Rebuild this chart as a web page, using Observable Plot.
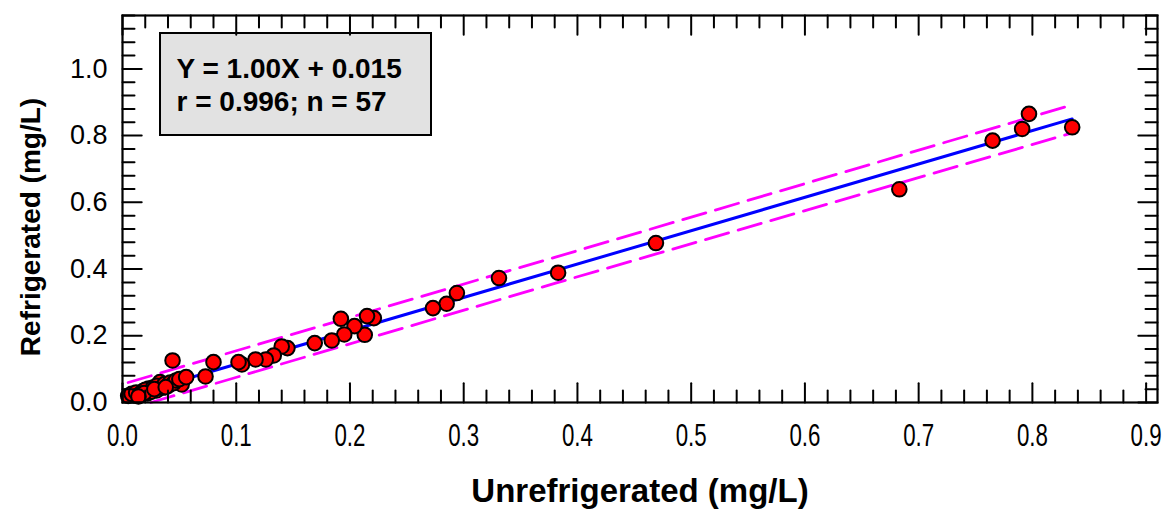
<!DOCTYPE html>
<html><head><meta charset="utf-8">
<script src="https://cdn.jsdelivr.net/npm/d3@7"></script>
<script src="https://cdn.jsdelivr.net/npm/@observablehq/plot@0.6"></script>
<style>html,body{margin:0;padding:0;background:#fff}#chart{width:1171px;height:515px}</style>
</head><body><div id="chart"></div>
<script>
// Measured points (unrefrigerated vs refrigerated, mg/L)
const unrefrigerated = [0.835,0.797,0.791,0.765,0.683,0.469,0.383,0.331,0.294,0.285,0.273,0.221,0.215,0.213,0.204,0.195,0.192,0.184,0.169,0.145,0.140,0.133,0.126,0.117,0.105,0.102,0.080,0.073,0.044,0.054,0.052,0.033,0.030,0.023,0.022,0.010,
  0.005,0.008,0.012,0.015,0.018,0.020,0.025,0.027,0.030,0.035,0.037,0.040,0.042,0.045,0.047,0.050,0.056,0.019,0.014,0.028,0.038];
const refrigerated = [0.825,0.865,0.820,0.785,0.639,0.478,0.389,0.373,0.328,0.296,0.283,0.253,0.259,0.203,0.229,0.204,0.251,0.186,0.178,0.163,0.168,0.141,0.129,0.129,0.114,0.121,0.121,0.078,0.126,0.072,0.054,0.061,0.036,0.042,0.027,0.021,
  0.020,0.026,0.030,0.024,0.034,0.038,0.032,0.045,0.050,0.044,0.055,0.050,0.060,0.058,0.066,0.070,0.076,0.028,0.018,0.040,0.046];
// Regression line and prediction band
const fitX = [0.005, 0.835];
const fitY = [0.020, 0.850];
const upperX = [0.005, 0.38, 0.835];
const upperY = [0.060, 0.435, 0.892];
const lowerX = [0.025, 0.38, 0.835];
const lowerY = [0.000, 0.357, 0.808];
// Ticks
const xTickLabels = [0.0,0.1,0.2,0.3,0.4,0.5,0.6,0.7,0.8,0.9];
const yTickLabels = [0.0,0.2,0.4,0.6,0.8,1.0];
const xMinor = d3.range(0, 46).map(i => i * 0.02);
const yMinor = d3.range(0, 30).map(i => i * 0.04);
const equationLines = ["Y = 1.00X + 0.015", "r = 0.996; n = 57"];
const xTitle = "Unrefrigerated (mg/L)";
const yTitle = "Refrigerated (mg/L)";

const points = unrefrigerated.map((x, i) => ({x, y: refrigerated[i]}));
const fit = fitX.map((x, i) => ({x, y: fitY[i]}));
const upper = upperX.map((x, i) => ({x, y: upperY[i]}));
const lower = lowerX.map((x, i) => ({x, y: lowerY[i]}));

const tickShape = {draw(ctx, l) { ctx.moveTo(0, 0); ctx.lineTo(0, -l); }};
const isMajorX = v => Math.abs(v * 10 - Math.round(v * 10)) < 1e-6;
const isMajorY = v => Math.abs(v * 5 - Math.round(v * 5)) < 1e-6;

const box = (index, scales, values, dimensions) => {
  const g = d3.create("svg:g");
  g.append("rect")
    .attr("x", dimensions.marginLeft + 38).attr("y", dimensions.marginTop + 18)
    .attr("width", 271).attr("height", 102)
    .attr("fill", "#e2e2e2").attr("stroke", "black").attr("stroke-width", 2);
  return g.node();
};

const svg = Plot.plot({
  width: 1171, height: 515,
  marginLeft: 122, marginRight: 14, marginTop: 15, marginBottom: 113,
  style: {fontFamily: "'Liberation Sans', Arial, sans-serif", background: "white", color: "black", overflow: "visible"},
  x: {domain: [0, 0.91]},
  y: {domain: [0, 1.16]},
  marks: [
    box,
    Plot.line(fit, {x: "x", y: "y", stroke: "#0000ff", strokeWidth: 3}),
    Plot.line(upper, {x: "x", y: "y", stroke: "#ff00ff", strokeWidth: 2.8, strokeDasharray: "24,10"}),
    Plot.line(lower, {x: "x", y: "y", stroke: "#ff00ff", strokeWidth: 2.8, strokeDasharray: "24,10"}),
    Plot.dot(points, {x: "x", y: "y", r: 7.3, fill: "#ff0000", stroke: "black", strokeWidth: 2}),
    Plot.vectorX(xMinor, {frameAnchor: "bottom", rotate: 0, anchor: "start", shape: tickShape, length: d => isMajorX(d) ? 8 : 5, stroke: "black", strokeWidth: 2}),
    Plot.vectorX(xMinor, {frameAnchor: "top", rotate: 180, anchor: "start", shape: tickShape, length: d => isMajorX(d) ? 8 : 5, stroke: "black", strokeWidth: 2}),
    Plot.vectorY(yMinor, {frameAnchor: "left", rotate: 90, anchor: "start", shape: tickShape, length: d => isMajorY(d) ? 8 : 5, stroke: "black", strokeWidth: 2}),
    Plot.vectorY(yMinor, {frameAnchor: "right", rotate: -90, anchor: "start", shape: tickShape, length: d => isMajorY(d) ? 8 : 5, stroke: "black", strokeWidth: 2}),
    Plot.frame({stroke: "black", strokeWidth: 2.2}),
    Plot.axisX(xTickLabels, {anchor: "bottom", tickSize: 0, tickPadding: 21, tickFormat: d3.format(".1f"), fontSize: 31, label: null}),
    Plot.axisY(yTickLabels, {anchor: "left", tickSize: 0, tickPadding: 15, tickFormat: d3.format(".1f"), fontSize: 27, label: null}),
    Plot.text([xTitle], {frameAnchor: "bottom", dy: 89, fontSize: 33, fontWeight: "bold", textAnchor: "middle", lineAnchor: "middle"}),
    Plot.text([yTitle], {frameAnchor: "left", rotate: -90, dx: -91, dy: 18, fontSize: 28, fontWeight: "bold", textAnchor: "middle", lineAnchor: "middle"}),
    Plot.text([equationLines.join("\n")], {frameAnchor: "top-left", dx: 54, dy: 39, textAnchor: "start", lineAnchor: "top", lineHeight: 1.18, fontSize: 28, fontWeight: "bold"})
  ]
});

d3.select(svg).selectAll('g[aria-label="x-axis tick label"] text').attr("transform", function() {
  return (this.getAttribute("transform") || "") + " scale(0.72,1)";
});
document.getElementById("chart").appendChild(svg);
</script>
</body></html>
